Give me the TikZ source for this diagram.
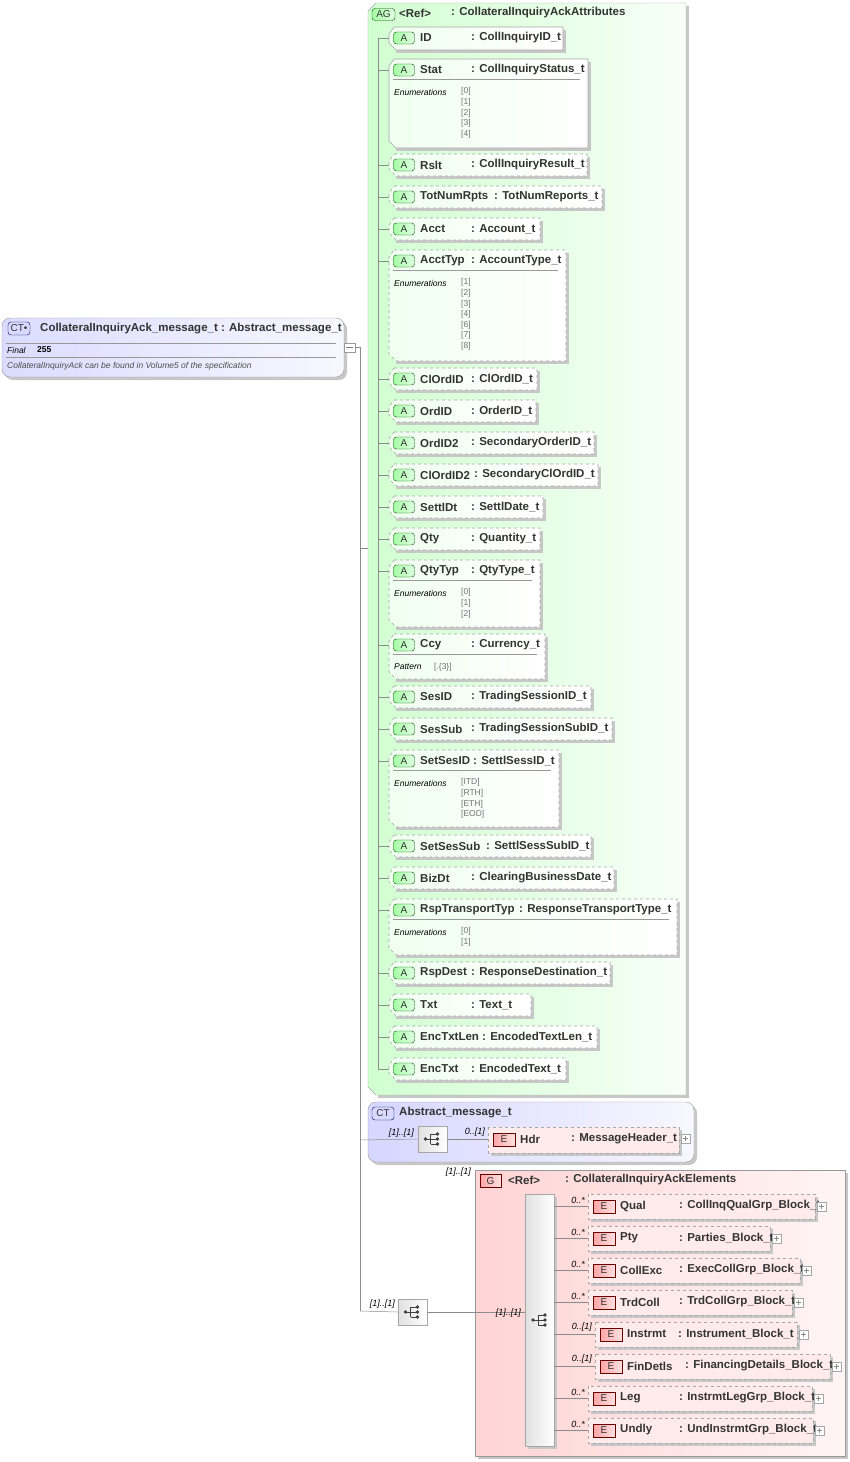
\documentclass[tikz,border=0pt]{standalone}
\usepackage{fontspec}
\setmainfont{Liberation Sans}
\begin{document}
\begin{tikzpicture}[x=1pt,y=-1pt,
 lbl/.style={font=\fontsize{11.5}{13}\selectfont\bfseries\color{black!80}, anchor=west, inner sep=0},
 small/.style={font=\fontsize{8.5}{9}\selectfont\itshape, anchor=west, inner sep=0},
 enumv/.style={font=\fontsize{8.5}{9}\selectfont\color{black!55}, anchor=west, inner sep=0},
 mult/.style={font=\fontsize{9}{10}\selectfont\itshape, inner sep=0},
 conn/.style={draw=black!45, line width=0.5pt},
 abox/.style={draw=black!35, line width=0.6pt, left color=green!6, right color=white},
 ebox/.style={draw=black!35, line width=0.6pt, dashed, fill=red!8},
 shad/.style={fill=black!22, draw=none},
 abadge/.style={draw=green!30!black, left color=green!35, right color=green!12, rounded corners=3pt, minimum width=21pt, minimum height=12pt, inner sep=0, font=\fontsize{10}{10}\selectfont\color{black!80}},
 ebadge/.style={draw=red!40!black, left color=red!35, right color=red!12, minimum width=22pt, minimum height=13pt, inner sep=0, font=\fontsize{10}{10}\selectfont\color{black!80}},
 ctbadge/.style={draw=blue!40!black, fill=blue!15, rounded corners=3pt, minimum width=22pt, minimum height=13pt, inner sep=0, font=\fontsize{10}{10}\selectfont\color{black!80}}
]
\useasboundingbox (0,0) rectangle (850,1462);

% ---------- macros
\newcommand\attrbox[8]{%
 \fill[shad] ({391+5},{#2+3}) -- ({#4+3},{#2+3}) -- ({#4+3},{#3+3}) -- ({391+5},{#3+3}) -- cycle;
 \draw[abox,#8] (394,#2) -- (#4,#2) -- (#4,#3) -- (396,#3) -- (389,{#3-7}) -- (389,{#2+7}) -- cycle;
 \node[abadge] (#1b) at (404,{#2+11}) {A};
 \node[lbl] (#1) at (420,{#2+11}) {#5};
 \node[lbl] at (#7,{#2+11}) {: #6};
 \coordinate (#1c) at (389,{#2+11});
 \draw[conn] (378,{#2+11}) -- (#1c);
}
\newcommand\enumlist[4]{% top, right, label, list
 \draw[black!40] (393,{#1+20}) -- ({#2-8},{#1+20});
 \node[small] at (394,{#1+33}) {#3};
 \foreach \v [count=\i] in {#4} {\node[enumv] at (461,{#1+22+\i*10.6}) {[\v]};}
}
\newcommand\seqicon[3]{% name, x, y center
 \node[draw=black!35, left color=black!12, right color=white, minimum width=29pt, minimum height=26pt, inner sep=0] (#1) at (#2,#3) {};
 \fill[black!75] ({#2-7},#3) circle (1.8pt);
 \draw[black!75, line width=0.7pt] ({#2-7},#3) -- ({#2-2},#3) ({#2-2},{#3-5}) -- ({#2-2},{#3+5}) ({#2-2},{#3-5}) -- ({#2+5},{#3-5}) ({#2-2},{#3+5}) -- ({#2+5},{#3+5}) ({#2-2},#3) -- ({#2+5},#3);
 \foreach \d in {-5,0,5} \fill[black!75] ({#2+5},{#3+\d}) circle (1.8pt);
}
\newcommand\plusbox[2]{%
 \draw[black!35, fill=white] (#1,#2) rectangle ++(9,9);
 \draw[black!45] (#1,#2) ++(2,4.5) -- ++(5,0) (#1,#2) ++(4.5,2) -- ++(0,5);
}
\newcommand\elem[8]{% name, top, left, right, label, type, colon x, mult
 \fill[shad] ({#3+3},{#2+3}) rectangle ({#4+3},{#2+28});
 \draw[ebox] (#3,#2) rectangle (#4,{#2+25});
 \node[ebadge] at ({#3+16},{#2+12.5}) {E};
 \node[lbl] (#1) at ({#3+32},{#2+12}) {#5};
 \node[lbl] at (#7,{#2+12}) {: #6};
 \coordinate (#1c) at (#3,{#2+12});
 \draw[conn] (gbar.east |- #1c) -- (#1c);
 \node[mult, anchor=south east] at ({#3-3},{#2+10}) {#8};
 \pgfmathsetmacro\pbx{#4+2}\pgfmathsetmacro\pby{#2+8}%
 \plusbox{\pbx}{\pby}
}

% ---------- main CT box
\fill[shad, rounded corners=8pt] (5,321) rectangle (347,380);
\draw[draw=black!40, left color=blue!14, right color=blue!3, rounded corners=8pt] (2,318) rectangle (344,377);
\node[ctbadge] at (19,328.5) {CT\raisebox{0.3pt}{\textbullet}};
\node[lbl] (main) at (40,328.5) {CollateralInquiryAck\_message\_t : Abstract\_message\_t};
\draw[black!40] (6,343) -- (336,343) (6,357) -- (336,357);
\node[small] at (7,350.5) {Final};
\node[lbl, font=\fontsize{8.5}{9}\selectfont\bfseries] at (37,350) {255};
\node[small, color=black!70] at (7,366) {CollateralInquiryAck can be found in Volume5 of the specification};
\draw[black!40, fill=white] (344,343) rectangle (355,352);
\draw[black!50] (346,347.5) -- (353,347.5);
\coordinate (trunk) at (360,348);
\draw[conn] (355,347.5) -- (360,347.5) -- (360,1311);

% ---------- AG box
\fill[shad] (378,6) -- (689,6) -- (689,1098) -- (378,1098) -- cycle;
\draw[draw=black!35, left color=green!18, right color=green!3] (376,3) -- (686,3) -- (686,1095) -- (376,1095) -- (368,1087) -- (368,11) -- cycle;
\node[abadge, minimum width=23pt] at (383.5,14.5) {AG};
\node[lbl] (ag) at (399,13) {<Ref>};
\node[lbl] at (451,13) {: CollateralInquiryAckAttributes};
\draw[conn] (360,548) -- (368,548);
\draw[conn] (378,38) -- (378,1069);

\attrbox{id}{27}{50}{563}{ID}{CollInquiryID\_t}{471}{}
\attrbox{stat}{59}{148}{588}{Stat}{CollInquiryStatus\_t}{471}{}
\enumlist{59}{588}{Enumerations}{0,1,2,3,4}
\attrbox{rslt}{154}{176}{587}{Rslt}{CollInquiryResult\_t}{471}{dashed}
\attrbox{tot}{186}{208}{602}{TotNumRpts}{TotNumReports\_t}{494}{dashed}
\attrbox{acct}{218}{240}{540}{Acct}{Account\_t}{471}{dashed}
\attrbox{accttyp}{250}{361}{566}{AcctTyp}{AccountType\_t}{471}{dashed}
\enumlist{250}{566}{Enumerations}{1,2,3,4,6,7,8}
\attrbox{clordid}{368}{390}{537}{ClOrdID}{ClOrdID\_t}{471}{dashed}
\attrbox{ordid}{400}{422}{536}{OrdID}{OrderID\_t}{471}{dashed}
\attrbox{ordid2}{432}{454}{594}{OrdID2}{SecondaryOrderID\_t}{471}{dashed}
\attrbox{clordid2}{464}{486}{598}{ClOrdID2}{SecondaryClOrdID\_t}{474}{dashed}
\attrbox{settldt}{496}{518}{543}{SettlDt}{SettlDate\_t}{471}{dashed}
\attrbox{qty}{528}{550}{540}{Qty}{Quantity\_t}{471}{dashed}
\attrbox{qtytyp}{560}{627}{540}{QtyTyp}{QtyType\_t}{471}{dashed}
\enumlist{560}{540}{Enumerations}{0,1,2}
\attrbox{ccy}{634}{679}{545}{Ccy}{Currency\_t}{471}{dashed}
\draw[black!40] (393,654) -- (537,654);
\node[small] at (394,667) {Pattern};
\node[enumv] at (434,667) {[.\{3\}]};
\attrbox{sesid}{686}{708}{591}{SesID}{TradingSessionID\_t}{471}{dashed}
\attrbox{sessub}{718}{740}{612}{SesSub}{TradingSessionSubID\_t}{471}{dashed}
\attrbox{setsesid}{750}{827}{559}{SetSesID}{SettlSessID\_t}{473}{dashed}
\enumlist{750}{559}{Enumerations}{ITD,RTH,ETH,EOD}
\attrbox{setsessub}{835}{857}{591}{SetSesSub}{SettlSessSubID\_t}{486}{dashed}
\attrbox{bizdt}{867}{889}{614}{BizDt}{ClearingBusinessDate\_t}{471}{dashed}
\attrbox{rsptt}{899}{955}{677}{RspTransportTyp}{ResponseTransportType\_t}{519}{dashed}
\enumlist{899}{677}{Enumerations}{0,1}
\attrbox{rspdest}{962}{984}{610}{RspDest}{ResponseDestination\_t}{471}{dashed}
\attrbox{txt}{994}{1016}{531}{Txt}{Text\_t}{471}{dashed}
\attrbox{enctxtlen}{1026}{1048}{597}{EncTxtLen}{EncodedTextLen\_t}{482}{dashed}
\attrbox{enctxt}{1058}{1080}{566}{EncTxt}{EncodedText\_t}{471}{dashed}

% ---------- Abstract_message_t
\fill[shad, rounded corners=8pt] (371,1105) rectangle (697,1165);
\draw[draw=black!40, left color=blue!16, right color=blue!3, rounded corners=8pt] (368,1102) rectangle (694,1162);
\node[ctbadge] at (383,1113.5) {CT};
\node[lbl] (abs) at (399,1113) {Abstract\_message\_t};
\seqicon{seq1}{432.5}{1139}
\draw[conn] (360,1140) -- (seq1.west);
\node[mult, anchor=south east] at (414,1138) {[1]..[1]};
\fill[shad] (491,1130) rectangle (682,1156);
\draw[ebox] (488,1127) rectangle (679,1153);
\node[ebadge] at (504,1139.5) {E};
\node[lbl] (hdr) at (520,1139) {Hdr};
\node[lbl] at (571,1139) {: MessageHeader\_t};
\draw[conn] (seq1.east) -- (488,1139);
\node[mult, anchor=south east] at (485,1137) {0..[1]};
\plusbox{681}{1134}

% ---------- sequence + G group
\seqicon{seq2}{412.5}{1312}
\draw[conn] (360,1311) -- (seq2.west);
\node[mult, anchor=south east] at (395,1309) {[1]..[1]};
\fill[shad] (478,1173) rectangle (848,1459);
\draw[draw=black!40, left color=red!17, right color=red!4] (475,1170) rectangle (845,1456);
\node[mult, anchor=south east] at (471,1177) {[1]..[1]};
\node[ebadge, minimum width=21pt] at (490.5,1181) {G};
\node[lbl] (grp) at (508,1180) {<Ref>};
\node[lbl] at (565,1180) {: CollateralInquiryAckElements};
\fill[shad] (528,1197) rectangle (557,1449);
\node[draw=black!35, left color=black!12, right color=white, minimum width=29pt, minimum height=252pt, inner sep=0, anchor=north west] (gbar) at (525,1194) {};
\fill[black!75] (533,1320) circle (1.8pt);
\draw[black!75, line width=0.7pt] (533,1320) -- (538,1320) (538,1315) -- (538,1325) (538,1315) -- (545,1315) (538,1325) -- (545,1325) (538,1320) -- (545,1320);
\foreach \d in {-5,0,5} \fill[black!75] (545,{1320+\d}) circle (1.8pt);
\draw[conn] (seq2.east) -- (gbar.west |- 0,1312);
\node[mult, anchor=south east] at (521,1318) {[1]..[1]};

\elem{qual}{1194}{588}{815}{Qual}{CollInqQualGrp\_Block\_t}{679}{0..*}
\elem{pty}{1226}{588}{770}{Pty}{Parties\_Block\_t}{679}{0..*}
\elem{collexc}{1258}{588}{800}{CollExc}{ExecCollGrp\_Block\_t}{679}{0..*}
\elem{trdcoll}{1290}{588}{792}{TrdColl}{TrdCollGrp\_Block\_t}{679}{0..*}
\elem{instrmt}{1322}{595}{797}{Instrmt}{Instrument\_Block\_t}{678}{0..[1]}
\elem{findetls}{1354}{595}{830}{FinDetls}{FinancingDetails\_Block\_t}{685}{0..[1]}
\elem{leg}{1386}{588}{812}{Leg}{InstrmtLegGrp\_Block\_t}{679}{0..*}
\elem{undly}{1418}{588}{813}{Undly}{UndInstrmtGrp\_Block\_t}{679}{0..*}
\end{tikzpicture}
\end{document}
